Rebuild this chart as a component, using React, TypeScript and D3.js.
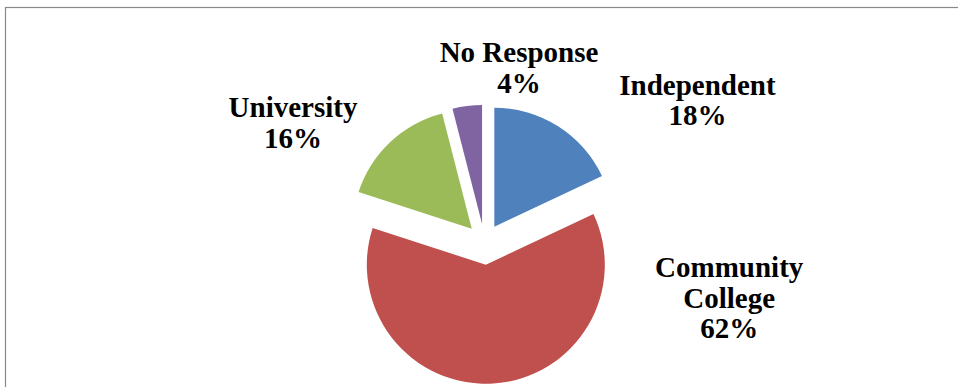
import React from "react";
import * as d3 from "d3";

const categories = ["Independent", "Community College", "University", "No Response"];
const values = [18, 62, 16, 4];
const labelLines = [["Independent", "18%"], ["Community", "College", "62%"], ["University", "16%"], ["No Response", "4%"]];
const colors = ["#4F81BD", "#C0504D", "#9BBB59", "#8064A2"];

const W = 958;
const H = 387;
const cx = 484.4;
const cy = 242.3;
const R = 119;
const explode = [18.5, 22.5, 18.5, 18.5];
// label anchor offsets from pie center (first baseline), layout only
const labelOffsets = [
  [213.1, -147.5],
  [244.8, 35],
  [-191.4, -125],
  [34.6, -180],
];
const lineH = 30.5;

export default function App() {
  const pie = d3.pie<number>().sort(null).value((d) => d);
  const arcs = pie(values);
  const arc = d3.arc<d3.PieArcDatum<number>>().innerRadius(0).outerRadius(R);
  return (
    <svg width={W} height={H} style={{ position: "absolute", left: 0, top: 0, background: "#fff" }}>
      <rect x={5.5} y={7.5} width={W + 20} height={H + 20} fill="#fff" stroke="#898989" strokeWidth={1.2} />
      <g transform={`translate(${cx},${cy})`}>
        {arcs.map((a, i) => {
          const mid = (a.startAngle + a.endAngle) / 2;
          const dx = Math.sin(mid) * explode[i];
          const dy = -Math.cos(mid) * explode[i];
          return (
            <path key={categories[i]} d={arc(a) || ""} fill={colors[i]} transform={`translate(${dx},${dy})`} />
          );
        })}
        {arcs.map((a, i) => (
          <text
            key={"l" + i}
            x={labelOffsets[i][0]}
            y={labelOffsets[i][1]}
            textAnchor="middle"
            style={{ fontFamily: "Liberation Serif, Tinos, Times New Roman, DejaVu Serif, serif", fontWeight: 700, fontSize: "29px" }}
            fill="#000"
          >
            {labelLines[i].map((t, j) => (
              <tspan key={j} x={labelOffsets[i][0]} dy={j === 0 ? 0 : lineH}>
                {t}
              </tspan>
            ))}
          </text>
        ))}
      </g>
    </svg>
  );
}
